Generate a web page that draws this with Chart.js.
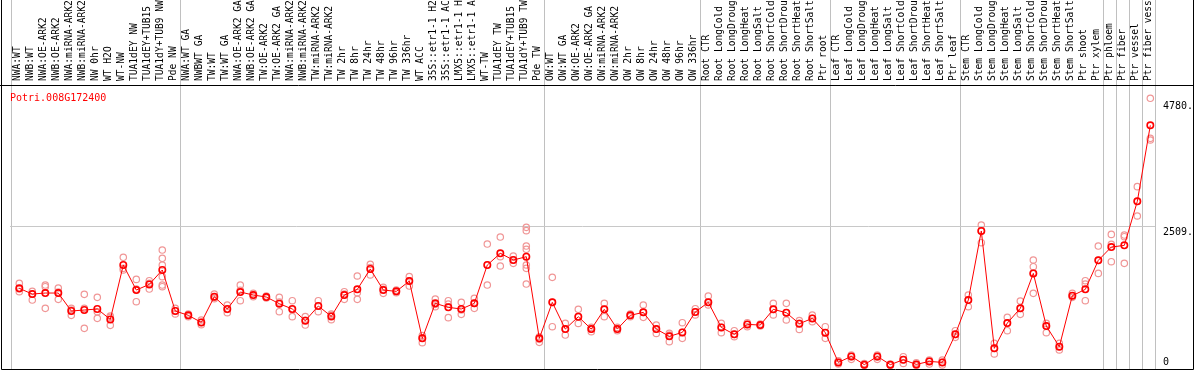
<!DOCTYPE html>
<html lang="en">
<head>
<meta charset="UTF-8">
<title>Potri.008G172400</title>
<script src="https://cdn.jsdelivr.net/npm/chart.js"></script>
<style>
  html, body { margin: 0; padding: 0; background: #fff; }
  #grafico { display: block; }
</style>
</head>
<body>
<canvas id="grafico" width="1194" height="370"></canvas>
<script>
  const geneName = 'Potri.008G172400';

  const categories = [
    'NWA:WT', 'NWB:WT', 'NWA:OE-ARK2', 'NWB:OE-ARK2', 'NWA:miRNA-ARK2', 'NWB:miRNA-ARK2',
    'NW 0hr', 'WT H2O', 'WT-NW', 'TUA1dEY NW', 'TUA1dEY+TUB15 NW', 'TUA1dY+TUB9 NW', 'Pde NW',
    'NWA:WT GA', 'NWBWT GA', 'TW:WT', 'TW:WT GA', 'NWA:OE-ARK2 GA', 'NWB:OE-ARK2 GA',
    'TW:OE-ARK2', 'TW:OE-ARK2 GA', 'NWA:miRNA-ARK2 GA', 'NWB:miRNA-ARK2 GA', 'TW:miRNA-ARK2',
    'TW:miRNA-ARK2 GA', 'TW 2hr', 'TW 8hr', 'TW 24hr', 'TW 48hr', 'TW 96hr', 'TW 336hr',
    'WT ACC', '35S::etr1-1 H2O', '35S::etr1-1 ACC', 'LMX5::etr1-1 H2O', 'LMX5::etr1-1 ACC',
    'WT-TW', 'TUA1dEY TW', 'TUA1dEY+TUB15 TW', 'TUA1dY+TUB9 TW', 'Pde TW',
    'OW:WT', 'OW:WT GA', 'OW:OE-ARK2', 'OW:OE-ARK2 GA', 'OW:miRNA-ARK2', 'OW:miRNA-ARK2 GA',
    'OW 2hr', 'OW 8hr', 'OW 24hr', 'OW 48hr', 'OW 96hr', 'OW 336hr',
    'Root CTR', 'Root LongCold', 'Root LongDrought', 'Root LongHeat', 'Root LongSalt',
    'Root ShortCold', 'Root ShortDrought', 'Root ShortHeat', 'Root ShortSalt', 'Ptr root',
    'Leaf CTR', 'Leaf LongCold', 'Leaf LongDrought', 'Leaf LongHeat', 'Leaf LongSalt',
    'Leaf ShortCold', 'Leaf ShortDrought', 'Leaf ShortHeat', 'Leaf ShortSalt', 'Ptr leaf',
    'Stem CTR', 'Stem LongCold', 'Stem LongDrought', 'Stem LongHeat', 'Stem LongSalt',
    'Stem ShortCold', 'Stem ShortDrought', 'Stem ShortHeat', 'Stem ShortSalt', 'Ptr shoot',
    'Ptr xylem', 'Ptr phloem', 'Ptr fiber', 'Ptr vessel', 'Ptr fiber vessel'
  ];

  // first category of each group (vertical separators)
  const groupStarts = [0, 13, 41, 53, 63, 73, 84, 85, 86, 87, 88];

  const means = [
    1385, 1283, 1301, 1301, 977, 995, 1013, 826, 1806, 1355, 1457, 1716, 977,
    899, 772, 1235, 1013, 1319, 1265, 1229, 1109, 1013, 802, 1067, 880, 1265, 1367, 1734,
    1355, 1331, 1517, 484, 1115, 1043, 1013, 1115, 1806, 2016, 1896, 1956, 484,
    1133, 652, 874, 652, 1007, 652, 899, 953, 652, 520, 592, 959,
    1133, 682, 556, 736, 724, 1007, 947, 748, 844, 586,
    51, 159, 10, 159, 10, 99, 15, 69, 51, 556,
    1175, 2419, 304, 760, 1025, 1655, 706, 334, 1253, 1367, 1890,
    2130, 2160, 2953, 4323
  ];

  const replicates = [
    [1475, 1373, 1325], [1331, 1283, 1175], [1445, 1415, 1025], [1391, 1319, 1187],
    [1025, 995, 899], [1277, 1025, 665], [1223, 965, 845], [887, 863, 719],
    [1944, 1746, 1716], [1547, 1373, 1145], [1523, 1475, 1373],
    [2076, 1926, 1806, 1596, 1445, 1415], [1025, 983, 923],
    [923, 899, 875], [814, 772, 730], [1283, 1223, 1199], [1085, 1007, 947],
    [1445, 1349, 1163], [1295, 1265, 1235], [1247, 1229, 1211], [1223, 1139, 965],
    [1163, 1001, 875], [875, 809, 724], [1163, 1067, 965], [923, 899, 821],
    [1325, 1283, 1187], [1608, 1307, 1187], [1818, 1758, 1626], [1403, 1367, 1295],
    [1355, 1331, 1307], [1596, 1523, 1427], [536, 494, 406], [1193, 1097, 1055],
    [1163, 1103, 857], [1133, 995, 917], [1205, 1115, 1025], [2184, 1806, 1445],
    [2310, 1956, 1788], [1968, 1896, 1836],
    [2485, 2425, 2148, 2088, 1806, 1746, 1463], [514, 466, 412],
    [1584, 1133, 694], [754, 652, 544], [1007, 875, 754], [682, 652, 604],
    [1115, 1007, 875], [682, 652, 622], [923, 899, 875], [1085, 953, 863],
    [724, 652, 574], [574, 544, 424], [766, 592, 484], [1019, 959, 905],
    [1247, 1133, 1085], [754, 682, 586], [622, 556, 514], [766, 736, 694],
    [742, 724, 706], [1115, 1007, 905], [1115, 947, 815], [803, 754, 646],
    [905, 845, 785], [694, 586, 484],
    [81, 51, 21], [184, 154, 106], [30, 10, 0], [184, 150, 106], [21, 8, 0],
    [154, 99, 33], [45, 15, 0], [94, 69, 21], [94, 51, 5], [622, 556, 502],
    [1265, 1175, 1055], [2527, 2419, 2208], [394, 304, 202], [863, 760, 622],
    [1157, 1025, 917], [1896, 1776, 1655, 1295], [754, 706, 586], [394, 334, 274],
    [1295, 1253, 1223], [1523, 1463, 1163], [2148, 1890, 1655],
    [2358, 2178, 1866], [2346, 2316, 1836], [3218, 2953, 2689], [4810, 4089, 4059]
  ];

  const yTicks = [0, 2509, 4780];
  const yTickLabels = ['0', '2509.', '4780.'];

  const meanPoints = means.map((v, i) => ({ x: i, y: v }));
  const repPoints = [];
  replicates.forEach((list, i) => list.forEach(v => repPoints.push({ x: i, y: v })));

  const monoFont = 'DejaVu Sans Mono';

  // white page, outer frame and group separators, drawn under everything
  const fondo = {
    id: 'fondo',
    beforeDraw(chart) {
      const c = chart.ctx;
      const area = chart.chartArea;
      const xs = chart.scales.x;
      c.save();
      c.fillStyle = '#fff';
      c.fillRect(0, 0, chart.width, chart.height);
      c.strokeStyle = '#c0c0c0';
      c.lineWidth = 1;
      groupStarts.forEach(g => {
        const px = Math.round(xs.getPixelForValue(g - 0.67)) + 0.5;
        c.beginPath();
        c.moveTo(px, 0);
        c.lineTo(px, area.bottom);
        c.stroke();
      });
      c.restore();
    },
    afterDraw(chart) {
      const c = chart.ctx;
      const area = chart.chartArea;
      c.save();
      c.strokeStyle = '#000';
      c.lineWidth = 1;
      c.beginPath();
      c.moveTo(1.5, 0);
      c.lineTo(1.5, area.bottom + 0.5);
      c.lineTo(chart.width - 0.5, area.bottom + 0.5);
      c.lineTo(chart.width - 0.5, 0);
      c.moveTo(0, Math.round(area.top) - 0.5);
      c.lineTo(chart.width, Math.round(area.top) - 0.5);
      c.stroke();
      c.fillStyle = '#ff0000';
      c.font = '10px ' + monoFont;
      c.textBaseline = 'top';
      c.fillText(geneName, area.left, area.top + 7);
      c.restore();
    }
  };

  const ctx = document.getElementById('grafico').getContext('2d');
  new Chart(ctx, {
    type: 'line',
    data: {
      datasets: [
        {
          type: 'line',
          data: meanPoints,
          borderColor: '#ff0000',
          borderWidth: 1,
          tension: 0,
          pointRadius: 3.2,
          pointBorderWidth: 1.6,
          pointBorderColor: '#ff0000',
          pointBackgroundColor: 'rgba(0,0,0,0)',
          order: 0
        },
        {
          type: 'scatter',
          data: repPoints,
          showLine: false,
          pointRadius: 3.2,
          pointBorderWidth: 1.2,
          pointBorderColor: '#f09696',
          pointBackgroundColor: 'rgba(0,0,0,0)',
          order: 1
        }
      ]
    },
    options: {
      responsive: false,
      animation: false,
      layout: { autoPadding: false, padding: { left: 10, right: 1, top: 0, bottom: 1 } },
      scales: {
        x: {
          type: 'linear',
          position: 'top',
          min: -0.715,
          max: 87.36,
          afterBuildTicks: s => { s.ticks = categories.map((c, i) => ({ value: i })); },
          afterFit: s => { s.height = 86; s.paddingLeft = 0; s.paddingRight = 0; },
          ticks: {
            autoSkip: false,
            minRotation: 90,
            maxRotation: 90,
            padding: -3,
            labelOffset: 10,
            color: '#000',
            font: { family: monoFont, size: 9.6 },
            callback: (v) => categories[v]
          },
          grid: { display: false },
          border: { display: false }
        },
        y: {
          position: 'right',
          min: -68,
          max: 5032,
          afterBuildTicks: s => { s.ticks = yTicks.map(v => ({ value: v })); },
          afterFit: s => { s.width = 38; s.paddingTop = 0; s.paddingBottom = 0; },
          ticks: {
            padding: 8,
            color: '#000',
            font: (c) => ({ family: monoFont, size: 10, lineHeight: c.tick && c.tick.value === 0 ? '6px' : '13px' }),
            callback: (v) => {
              const t = yTickLabels[yTicks.indexOf(v)];
              return v === 0 ? [t, ''] : ['', t];
            }
          },
          grid: {
            drawTicks: false,
            color: (c) => (c.tick && c.tick.value === 2509 ? '#c8c8c8' : 'rgba(0,0,0,0)')
          },
          border: { display: false }
        }
      },
      plugins: {
        legend: { display: false },
        tooltip: { enabled: false }
      }
    },
    plugins: [fondo]
  });
</script>
</body>
</html>
